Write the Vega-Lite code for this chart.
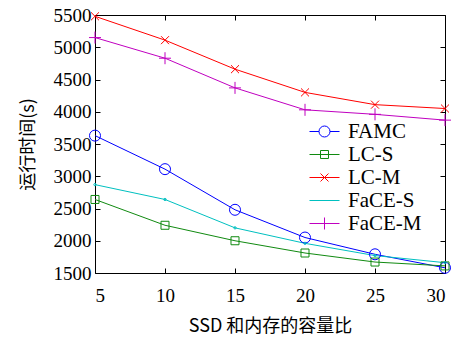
{
  "$schema": "https://vega.github.io/schema/vega-lite/v6.json",
  "width": 350,
  "height": 258,
  "autosize": {"type": "none"},
  "padding": {"left": 95, "top": 15, "right": 12, "bottom": 72},
  "background": "white",
  "config": {
    "view": {"stroke": "black", "strokeWidth": 1},
    "axis": {
      "labelFont": "Liberation Serif",
      "labelFontSize": 19,
      "labelColor": "black",
      "titleFont": "Noto Sans CJK SC",
      "titleFontSize": 18,
      "titleFontWeight": "normal",
      "titleColor": "black",
      "domain": false,
      "grid": false,
      "tickColor": "black",
      "tickSize": -5,
      "tickWidth": 1
    },
    "legend": {
      "labelFont": "Liberation Serif",
      "title": null,
      "orient": "none",
      "legendX": 219,
      "legendY": 106,
      "padding": 0,
      "labelFontSize": 21,
      "labelColor": "black",
      "labelOffset": 13,
      "symbolSize": 225,
      "symbolStrokeWidth": 1,
      "rowPadding": 1
    }
  },
  "data": {
    "values": [
      {"ratio": 5, "series": "FAMC", "time": 3630},
      {"ratio": 10, "series": "FAMC", "time": 3110},
      {"ratio": 15, "series": "FAMC", "time": 2480},
      {"ratio": 20, "series": "FAMC", "time": 2050},
      {"ratio": 25, "series": "FAMC", "time": 1790},
      {"ratio": 30, "series": "FAMC", "time": 1580},
      {"ratio": 5, "series": "LC-S", "time": 2640},
      {"ratio": 10, "series": "LC-S", "time": 2240},
      {"ratio": 15, "series": "LC-S", "time": 2000},
      {"ratio": 20, "series": "LC-S", "time": 1810},
      {"ratio": 25, "series": "LC-S", "time": 1670},
      {"ratio": 30, "series": "LC-S", "time": 1610},
      {"ratio": 5, "series": "LC-M", "time": 5480},
      {"ratio": 10, "series": "LC-M", "time": 5110},
      {"ratio": 15, "series": "LC-M", "time": 4660},
      {"ratio": 20, "series": "LC-M", "time": 4300},
      {"ratio": 25, "series": "LC-M", "time": 4110},
      {"ratio": 30, "series": "LC-M", "time": 4050},
      {"ratio": 5, "series": "FaCE-S", "time": 2870},
      {"ratio": 10, "series": "FaCE-S", "time": 2640},
      {"ratio": 15, "series": "FaCE-S", "time": 2200},
      {"ratio": 20, "series": "FaCE-S", "time": 1960},
      {"ratio": 25, "series": "FaCE-S", "time": 1770},
      {"ratio": 30, "series": "FaCE-S", "time": 1660},
      {"ratio": 5, "series": "FaCE-M", "time": 5150},
      {"ratio": 10, "series": "FaCE-M", "time": 4830},
      {"ratio": 15, "series": "FaCE-M", "time": 4370},
      {"ratio": 20, "series": "FaCE-M", "time": 4030},
      {"ratio": 25, "series": "FaCE-M", "time": 3960},
      {"ratio": 30, "series": "FaCE-M", "time": 3870}
    ]
  },
  "layer": [
    {
      "mark": {"type": "line", "strokeWidth": 1},
      "encoding": {
        "x": {"field": "ratio", "type": "quantitative", "scale": {"domain": [5, 30], "nice": false},
              "axis": {"orient": "bottom", "values": [5, 10, 15, 20, 25, 30], "title": "SSD 和内存的容量比", "labelPadding": 18, "titlePadding": 12}},
        "y": {"field": "time", "type": "quantitative", "scale": {"domain": [1500, 5500], "nice": false, "zero": false},
              "axis": {"orient": "left", "values": [1500, 2000, 2500, 3000, 3500, 4000, 4500, 5000, 5500], "format": "d", "title": "运行时间(s)", "labelPadding": 9, "titlePadding": 16}},
        "color": {"field": "series", "type": "nominal",
                  "scale": {"domain": ["FAMC", "LC-S", "LC-M", "FaCE-S", "FaCE-M"], "range": ["#0000ff", "#108a10", "#ff0000", "#00c0c0", "#c000c0"]},
                  "legend": {
                    "symbolType": "M-2,0L2,0",
                    "encoding": {"symbols": {
                      "shape": {"value": {"expr": "datum.value == 'FAMC' ? 'M-2,0L-0.733,0M0.733,0L2,0M0.733,0A0.733,0.733 0 1,1 -0.733,0A0.733,0.733 0 1,1 0.733,0' : datum.value == 'LC-S' ? 'M-2,0L2,0M-0.533,-0.533L0.533,-0.533L0.533,0.533L-0.533,0.533Z' : datum.value == 'LC-M' ? 'M-2,0L2,0M-0.533,-0.533L0.533,0.533M0.533,-0.533L-0.533,0.533' : datum.value == 'FaCE-S' ? 'M-2,0L2,0' : 'M-2,0L2,0M0,-0.8L0,0.8'"}},
                      "size": {"value": 225},
                      "fill": {"value": "transparent"}
                    }}
                  }}
      }
    },
    {
      "mark": {"type": "point", "filled": false, "strokeWidth": 1, "opacity": 1, "size": 144},
      "encoding": {
        "x": {"field": "ratio", "type": "quantitative", "axis": null},
        "y": {"field": "time", "type": "quantitative", "axis": null},
        "color": {"field": "series", "type": "nominal",
                  "scale": {"domain": ["FAMC", "LC-S", "LC-M", "FaCE-S", "FaCE-M"], "range": ["#0000ff", "#108a10", "#ff0000", "#00c0c0", "#c000c0"]},
                  "legend": null},
        "shape": {"field": "series", "type": "nominal",
                  "scale": {"domain": ["FAMC", "LC-S", "LC-M", "FaCE-S", "FaCE-M"], "range": [
                    "M0.917,0A0.917,0.917 0 1,1 -0.917,0A0.917,0.917 0 1,1 0.917,0",
                    "M-0.667,-0.667L0.667,-0.667L0.667,0.667L-0.667,0.667Z",
                    "M-0.667,-0.667L0.667,0.667M0.667,-0.667L-0.667,0.667",
                    "M0.2,0A0.2,0.2 0 1,1 -0.2,0A0.2,0.2 0 1,1 0.2,0",
                    "M-1,0L1,0M0,-1L0,1"]},
                  "legend": null}
      }
    },
    {
      "mark": {"type": "point", "opacity": 0},
      "encoding": {
        "x": {"field": "ratio", "type": "quantitative",
              "axis": {"orient": "top", "values": [5, 10, 15, 20, 25, 30], "labels": false, "title": null}},
        "y": {"field": "time", "type": "quantitative",
              "axis": {"orient": "right", "values": [1500, 2000, 2500, 3000, 3500, 4000, 4500, 5000, 5500], "labels": false, "title": null}}
      }
    }
  ],
  "resolve": {"axis": {"x": "independent", "y": "independent"}, "legend": {"color": "independent", "shape": "independent"}}
}
